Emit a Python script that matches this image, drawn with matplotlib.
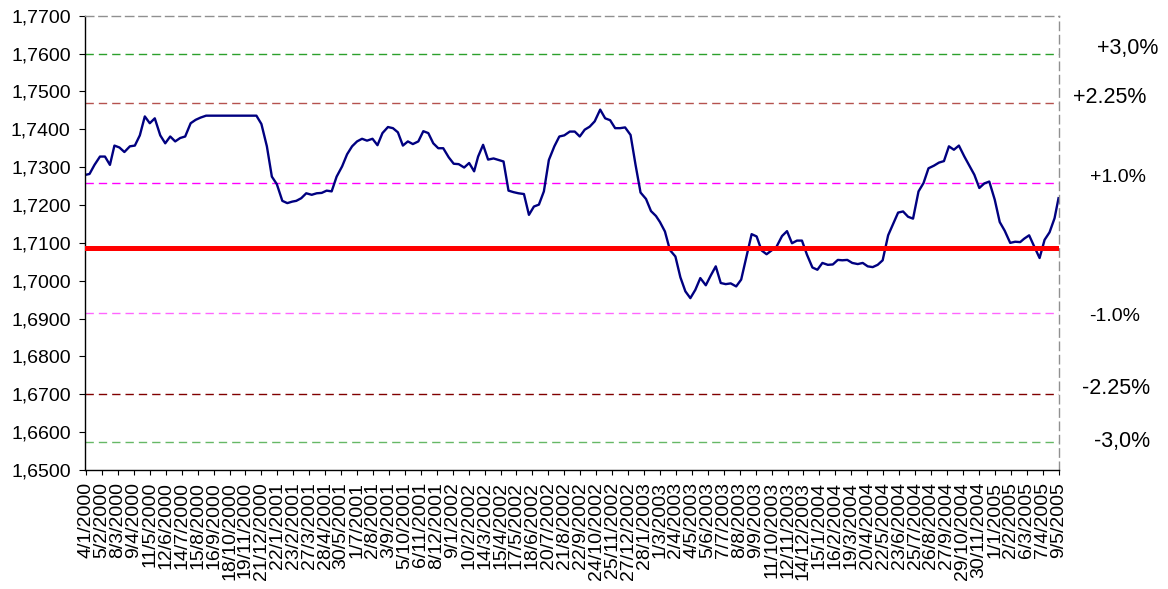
import pandas as pd
import matplotlib.pyplot as plt
import matplotlib.transforms as mtransforms

plt.rcParams['font.family'] = ['Liberation Sans', 'DejaVu Sans']

# valores: 3 por mes (dias 1, 11 y 21)
valores_2000 = [1.7280, 1.7282, 1.7306, 1.7328, 1.7328, 1.7306, 1.7357, 1.7352, 1.7340,
                1.7355, 1.7357, 1.7384, 1.7434, 1.7416, 1.7429, 1.7384, 1.7363, 1.7381,
                1.7368, 1.7377, 1.7381, 1.7416, 1.7425, 1.7431, 1.7436, 1.7436, 1.7436,
                1.7436, 1.7436, 1.7436, 1.7436, 1.7436, 1.7436, 1.7436, 1.7436, 1.7414]
valores_2001 = [1.7355, 1.7275, 1.7255, 1.7211, 1.7205, 1.7209, 1.7211, 1.7218, 1.7231,
                1.7227, 1.7231, 1.7232, 1.7238, 1.7236, 1.7275, 1.7302, 1.7334, 1.7355,
                1.7368, 1.7375, 1.7370, 1.7375, 1.7358, 1.7390, 1.7406, 1.7403, 1.7392,
                1.7357, 1.7368, 1.7361, 1.7368, 1.7395, 1.7390, 1.7363, 1.7350, 1.7350]
valores_2002 = [1.7326, 1.7309, 1.7308, 1.7299, 1.7311, 1.7289, 1.7328, 1.7359, 1.7320,
                1.7323, 1.7319, 1.7315, 1.7238, 1.7234, 1.7231, 1.7229, 1.7174, 1.7196,
                1.7201, 1.7236, 1.7319, 1.7355, 1.7381, 1.7384, 1.7394, 1.7394, 1.7381,
                1.7399, 1.7407, 1.7421, 1.7452, 1.7429, 1.7424, 1.7403, 1.7403, 1.7405]
valores_2003 = [1.7385, 1.7306, 1.7233, 1.7216, 1.7184, 1.7171, 1.7155, 1.7130, 1.7081,
                1.7064, 1.7009, 1.6972, 1.6954, 1.6976, 1.7007, 1.6988, 1.7014, 1.7038,
                1.6994, 1.6991, 1.6993, 1.6985, 1.7003, 1.7060, 1.7123, 1.7117, 1.7080,
                1.7070, 1.7080, 1.7090, 1.7118, 1.7131, 1.7099, 1.7106, 1.7106, 1.7069]
valores_2004 = [1.7035, 1.7029, 1.7047, 1.7042, 1.7043, 1.7055, 1.7054, 1.7055, 1.7047,
                1.7044, 1.7047, 1.7038, 1.7036, 1.7042, 1.7054, 1.7120, 1.7150, 1.7180,
                1.7183, 1.7169, 1.7164, 1.7236, 1.7258, 1.7297, 1.7304, 1.7312, 1.7316,
                1.7355, 1.7346, 1.7357, 1.7328, 1.7304, 1.7280, 1.7245, 1.7257, 1.7262]
valores_2005 = [1.7214, 1.7155, 1.7132, 1.7100, 1.7103, 1.7102, 1.7111, 1.7120, 1.7091,
                1.7060, 1.7108, 1.7128, 1.7165, 1.7218]

valores = valores_2000 + valores_2001 + valores_2002 + valores_2003 + valores_2004 + valores_2005

# fechas de las lecturas (primera el 4/1/2000, ultima el 9/5/2005)
fechas = [pd.Timestamp(a, m, d) for a in range(2000, 2006) for m in range(1, 13) for d in (1, 11, 21)]
fechas[0] = pd.Timestamp(2000, 1, 4)
fechas = fechas[:len(valores) - 1] + [pd.Timestamp(2005, 5, 9)]

# paridad central y bandas
paridad_central = 1.7086
bandas = [1.7599, 1.7470, 1.7257, 1.6915, 1.6702, 1.6573]
bandas_colores = ["#2ca02c", "#b5524f", "#ff00ff", "#ff66ff", "#800000", "#66b866"]
bandas_textos = ["+3,0%", "+2.25%", "+1.0%", "-1.0%", "-2.25%", "-3,0%"]

fechas_eje = ["4/1/2000", "5/2/2000", "8/3/2000", "9/4/2000", "11/5/2000", "12/6/2000",
              "14/7/2000", "15/8/2000", "16/9/2000", "18/10/2000", "19/11/2000", "21/12/2000",
              "22/1/2001", "23/2/2001", "27/3/2001", "28/4/2001", "30/5/2001", "1/7/2001",
              "2/8/2001", "3/9/2001", "5/10/2001", "6/11/2001", "8/12/2001", "9/1/2002",
              "10/2/2002", "14/3/2002", "15/4/2002", "17/5/2002", "18/6/2002", "20/7/2002",
              "21/8/2002", "22/9/2002", "24/10/2002", "25/11/2002", "27/12/2002", "28/1/2003",
              "1/3/2003", "2/4/2003", "4/5/2003", "5/6/2003", "7/7/2003", "8/8/2003",
              "9/9/2003", "11/10/2003", "12/11/2003", "14/12/2003", "15/1/2004", "16/2/2004",
              "19/3/2004", "20/4/2004", "22/5/2004", "23/6/2004", "25/7/2004", "26/8/2004",
              "27/9/2004", "29/10/2004", "30/11/2004", "1/1/2005", "2/2/2005", "6/3/2005",
              "7/4/2005", "9/5/2005"]

y_ticks = [1.65 + 0.01 * i for i in range(13)]

fig = plt.figure(figsize=(11.68, 5.89), dpi=100)
ax = fig.add_axes([0.0728, 0.2020, 0.8339, 0.7713])

# bandas
for nivel, color in zip(bandas, bandas_colores):
    ax.axhline(nivel, color=color, lw=1.0, dashes=(6, 3.6), zorder=1)

ax.plot(fechas, valores, color="#000080", lw=1.7, zorder=2)
ax.axhline(paridad_central, color="#ff0000", lw=3.6, zorder=3)

ax.set_ylim(1.65, 1.77)
ax.set_xlim(pd.Timestamp(2000, 1, 2), pd.Timestamp(2005, 5, 10))
ax.set_yticks(y_ticks)
ax.set_yticklabels([f"{v:.4f}".replace(".", ",") for v in y_ticks], fontsize=14)
pos_x = pd.to_datetime(fechas_eje, format="%d/%m/%Y")
ax.set_xticks(pos_x)
ax.set_xticklabels(fechas_eje, rotation=90, fontsize=14)
ax.tick_params(axis="y", direction="out", length=4.3, width=0.8, pad=6)
ax.tick_params(axis="x", direction="out", length=3.6, width=0.8, pad=5)

for lado in ["top", "right"]:
    ax.spines[lado].set_linestyle((0, (6, 3.6)))
    ax.spines[lado].set_color("#909090")
    ax.spines[lado].set_linewidth(1.0)
ax.spines["left"].set_linewidth(1.0)
ax.spines["bottom"].set_linewidth(1.0)

# etiquetas de las bandas a la derecha
trans = mtransforms.blended_transform_factory(fig.transFigure, ax.transData)
pos_textos = [(0.9658, 1.7613, 15.5), (0.9503, 1.7485, 15.5), (0.9572, 1.7273, 14),
              (0.9546, 1.6906, 14), (0.9555, 1.6715, 15.5), (0.9606, 1.6575, 15.5)]
for texto, (xt, yt, tam) in zip(bandas_textos, pos_textos):
    ax.text(xt, yt, texto, transform=trans, ha="center", va="center", fontsize=tam)

plt.savefig("out.png", dpi=100)
